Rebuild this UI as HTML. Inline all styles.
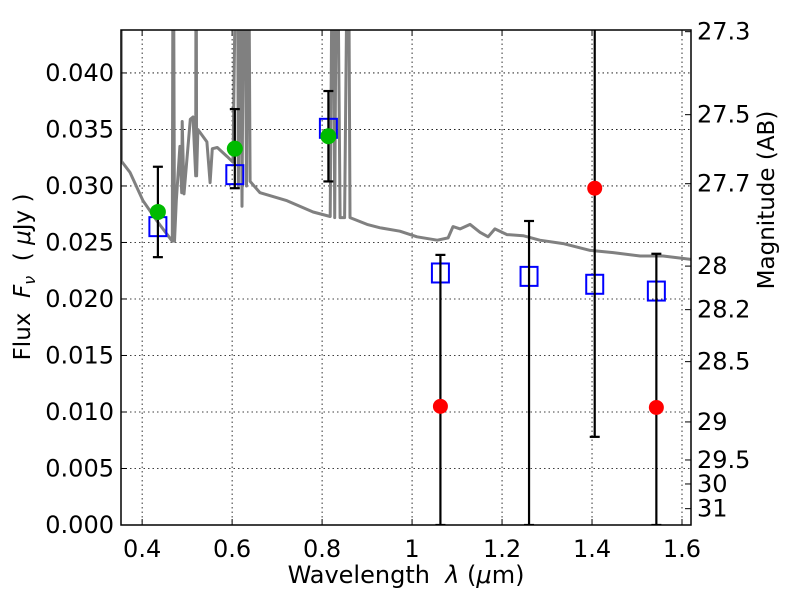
<!DOCTYPE html>
<html><head><meta charset="utf-8"><style>
html,body{margin:0;padding:0;background:#fff}
svg{display:block;font-family:"DejaVu Sans","Liberation Sans",sans-serif}
</style></head><body>
<svg id="chart" width="800" height="600" xmlns="http://www.w3.org/2000/svg">
<defs><clipPath id="clip"><rect x="121" y="30" width="570" height="495"/></clipPath></defs>
<g id="grid"></g>
<g id="plot" clip-path="url(#clip)"></g>
<rect x="121" y="30" width="570" height="495" fill="none" stroke="#000" stroke-width="1.5"/>
<g id="axes"></g>
<text x="406" y="583" font-size="24" text-anchor="middle" xml:space="preserve">Wavelength  <tspan font-style="italic">λ</tspan> (<tspan font-style="italic">μ</tspan>m)</text>
<text transform="translate(30,277) rotate(-90)" font-size="23" text-anchor="middle" xml:space="preserve">Flux  <tspan font-style="italic">F</tspan><tspan font-style="italic" font-size="16" dy="5">ν</tspan><tspan dy="-5">  ( </tspan><tspan font-style="italic">μ</tspan>Jy )</text>
<text transform="translate(774,200) rotate(-90)" font-size="23" text-anchor="middle">Magnitude (AB)</text>
</svg>
<script>
const xTicks=[0.4,0.6,0.8,1.0,1.2,1.4,1.6];
const xTickLabels=["0.4","0.6","0.8","1","1.2","1.4","1.6"];
const yTicks=[0,0.005,0.01,0.015,0.02,0.025,0.03,0.035,0.04];
const yTickLabels=["0.000","0.005","0.010","0.015","0.020","0.025","0.030","0.035","0.040"];
const magTicks=[27.3,27.5,27.7,28,28.2,28.5,29,29.5,30,31];
const magTickLabels=["27.3","27.5","27.7","28","28.2","28.5","29","29.5","30","31"];
const specWave=[0.353,0.354,0.373,0.402,0.433,0.467,0.469,0.472,0.476,0.484,0.488,0.489,0.493,0.507,0.513,0.519,0.520,0.521,0.524,0.544,0.551,0.556,0.567,0.589,0.602,0.611,0.614,0.618,0.622,0.627,0.632,0.636,0.640,0.662,0.722,0.780,0.818,0.824,0.828,0.833,0.84,0.85,0.858,0.862,0.9,0.929,0.973,1.011,1.056,1.08,1.091,1.107,1.129,1.151,1.169,1.184,1.211,1.247,1.284,1.336,1.396,1.447,1.507,1.558,1.62];
const specFlux=[0.06,0.0322,0.0312,0.0287,0.0269,0.0251,0.06,0.0251,0.0287,0.0335,0.0294,0.0357,0.0293,0.0359,0.0361,0.0309,0.06,0.0309,0.0350,0.0339,0.0303,0.0333,0.0334,0.0326,0.0321,0.06,0.030,0.06,0.0282,0.06,0.030,0.06,0.0304,0.0294,0.0287,0.0277,0.0273,0.06,0.0272,0.06,0.0272,0.0272,0.06,0.0272,0.0266,0.0263,0.0260,0.0255,0.0252,0.0254,0.0264,0.0262,0.0266,0.0259,0.0255,0.0262,0.0257,0.0256,0.0252,0.0249,0.0243,0.0241,0.0238,0.0238,0.0235];
const modelWave=[0.435,0.606,0.814,1.063,1.26,1.406,1.543];
const modelFlux=[0.0264,0.0310,0.0351,0.0223,0.0220,0.0213,0.0207];
const detWave=[0.435,0.606,0.814];
const detFlux=[0.0277,0.0333,0.0344];
const detLo=[0.0237,0.0298,0.0304];
const detHi=[0.0317,0.0368,0.0384];
const ndWave=[1.063,1.26,1.406,1.543];
const ndFlux=[0.0105,-0.0008,0.0298,0.0104];
const ndLo=[0.0,0.0,0.0078,0.0];
const ndHi=[0.0239,0.0269,0.05,0.0240];

const X0=121,X1=691,Y0=525,Y1=30,XMIN=0.353,XMAX=1.62,YMIN=0,YMAX=0.0438;
const sx=v=>X0+(v-XMIN)/(XMAX-XMIN)*(X1-X0);
const sy=v=>Y0-(v-YMIN)/(YMAX-YMIN)*(Y0-Y1);
const NS="http://www.w3.org/2000/svg";
function mk(tag,attrs,parent){const e=document.createElementNS(NS,tag);for(const k in attrs)e.setAttribute(k,attrs[k]);parent.appendChild(e);return e;}
const grid=document.getElementById('grid'),plot=document.getElementById('plot'),axes=document.getElementById('axes');
xTicks.forEach((t,i)=>{
 const x=sx(t);
 const g=mk('line',{x1:x,x2:x,y1:Y1,y2:Y0,stroke:'#000','stroke-width':0.8,'stroke-dasharray':'1.5,3'},grid);
 
 
 mk('line',{x1:x,x2:x,y1:Y0,y2:Y0-6,stroke:'#000','stroke-width':1},axes);
 mk('line',{x1:x,x2:x,y1:Y1,y2:Y1+6,stroke:'#000','stroke-width':1},axes);
 const l=mk('text',{x:x,y:557,'font-size':24,'text-anchor':'middle'},axes);
 l.textContent=xTickLabels[i];
 
 
});
yTicks.forEach((t,i)=>{
 const y=sy(t);
 const g=mk('line',{x1:X0,x2:X1,y1:y,y2:y,stroke:'#000','stroke-width':0.8,'stroke-dasharray':'1.5,3'},grid);
 
 
 mk('line',{x1:X0,x2:X0+6,y1:y,y2:y,stroke:'#000','stroke-width':1},axes);
 const l=mk('text',{x:114,y:y+8,'font-size':24,'text-anchor':'end'},axes);
 l.textContent=yTickLabels[i];
 
 
});
magTicks.forEach((m,i)=>{
 const y=sy(Math.pow(10,(23.9-m)/2.5));
 mk('line',{x1:X1,x2:X1-6,y1:y,y2:y,stroke:'#000','stroke-width':1},axes);
 const l=mk('text',{x:697,y:y+8,'font-size':24,'text-anchor':'start'},axes);
 l.textContent=magTickLabels[i];
 
 
});
const pts=specWave.map((w,i)=>sx(w).toFixed(1)+','+sy(specFlux[i]).toFixed(1)).join(' ');
const sp=mk('polyline',{points:pts,fill:'none',stroke:'#808080','stroke-width':3,'stroke-linejoin':'round'},plot);


function errbar(x,lo,hi){
 const g=mk('g',{stroke:'#000','stroke-width':2.2},plot);
 
 
 mk('line',{x1:sx(x),x2:sx(x),y1:sy(lo),y2:sy(hi)},g);
 mk('line',{x1:sx(x)-5,x2:sx(x)+5,y1:sy(lo),y2:sy(lo)},g);
 mk('line',{x1:sx(x)-5,x2:sx(x)+5,y1:sy(hi),y2:sy(hi)},g);
}
modelWave.forEach((w,i)=>{
 const r=mk('rect',{x:sx(w)-8.5,y:sy(modelFlux[i])-9.5,width:17,height:19,fill:'none',stroke:'#0000ff','stroke-width':2},plot);
 
 
});
ndWave.forEach((w,i)=>{
 errbar(w,ndLo[i],ndHi[i]);
 const c=mk('circle',{cx:sx(w),cy:sy(ndFlux[i]),r:7.5,fill:'#ff0000'},plot);
 
 
});
detWave.forEach((w,i)=>{
 errbar(w,detLo[i],detHi[i]);
 const c=mk('circle',{cx:sx(w),cy:sy(detFlux[i]),r:8,fill:'#00bb00'},plot);
 
 
});
</script>
</body></html>
